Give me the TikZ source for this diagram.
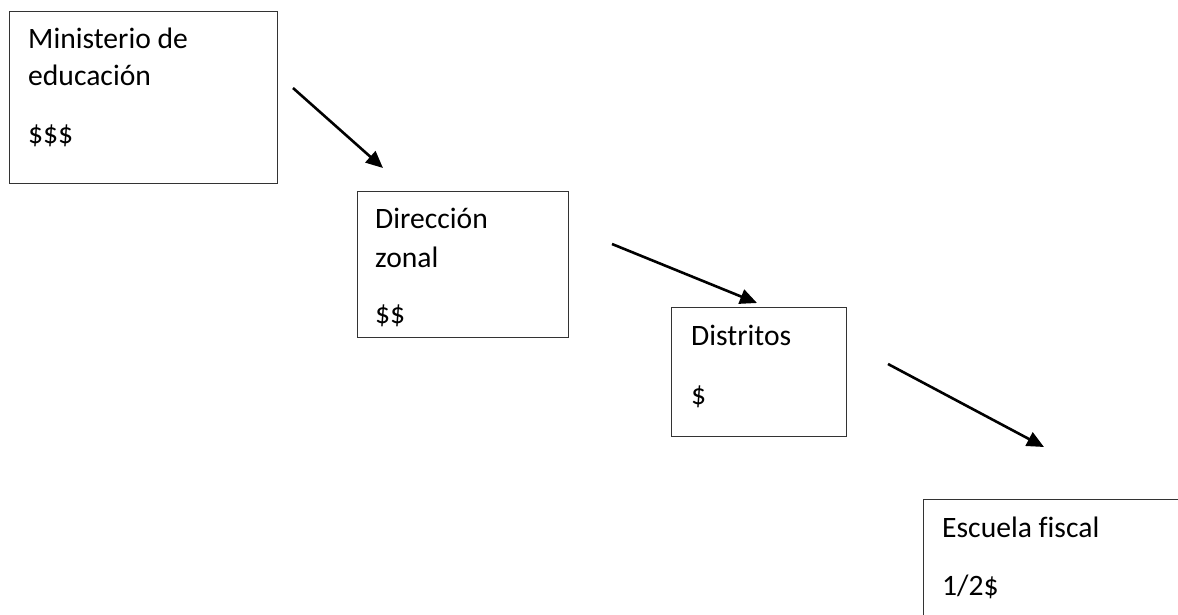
\documentclass[tikz,border=0pt]{standalone}
\usepackage{fontspec}
\setmainfont[Ligatures={NoCommon}]{Carlito}
\usetikzlibrary{arrows.meta}
\begin{document}
\begin{tikzpicture}[x=1pt,y=-1pt,
  box/.style={draw=black!80, line width=1.2pt, fill=none},
  lbl/.style={anchor=base west, inner sep=0pt, font=\fontsize{29.6}{36}\selectfont},
  arr/.style={line width=2.6pt, -{Triangle[length=17pt,width=15pt]}}]
\useasboundingbox (0,0) rectangle (1178,615);
\clip (0,0) rectangle (1178,615);
% boxes
\node[box, anchor=north west, minimum width=268pt, minimum height=172pt, inner sep=0pt] (b1) at (9,11) {};
\node[box, anchor=north west, minimum width=211pt, minimum height=146pt, inner sep=0pt] (b2) at (357,191) {};
\node[box, anchor=north west, minimum width=175pt, minimum height=129pt, inner sep=0pt] (b3) at (671,307) {};
\node[box, anchor=north west, minimum width=300pt, minimum height=160pt, inner sep=0pt] (b4) at (923,499) {};
% labels
\node[lbl] (t1a) at (28,49) {Ministerio de};
\node[lbl] (t1b) at (28,86) {educación};
\node[lbl] (t1c) at (28,143) {\$\$\$};
\node[lbl] (t2a) at (375,228) {Dirección};
\node[lbl] (t2b) at (375,267) {zonal};
\node[lbl] (t2c) at (375,323) {\$\$};
\node[lbl] (t3a) at (691,345) {Distritos};
\node[lbl] (t3b) at (691,404) {\$};
\node[lbl] (t4a) at (942,537) {Escuela fiscal};
\node[lbl] (t4b) at (942,595) {1/2\$};
% arrows
\coordinate (a1s) at (293,88);
\coordinate (a1e) at (383,168);
\coordinate (a2s) at (612,244);
\coordinate (a2e) at (757,303);
\coordinate (a3s) at (888,364);
\coordinate (a3e) at (1044,447);
\draw[arr] (a1s) -- (a1e);
\draw[arr] (a2s) -- (a2e);
\draw[arr] (a3s) -- (a3e);
\end{tikzpicture}
\end{document}
